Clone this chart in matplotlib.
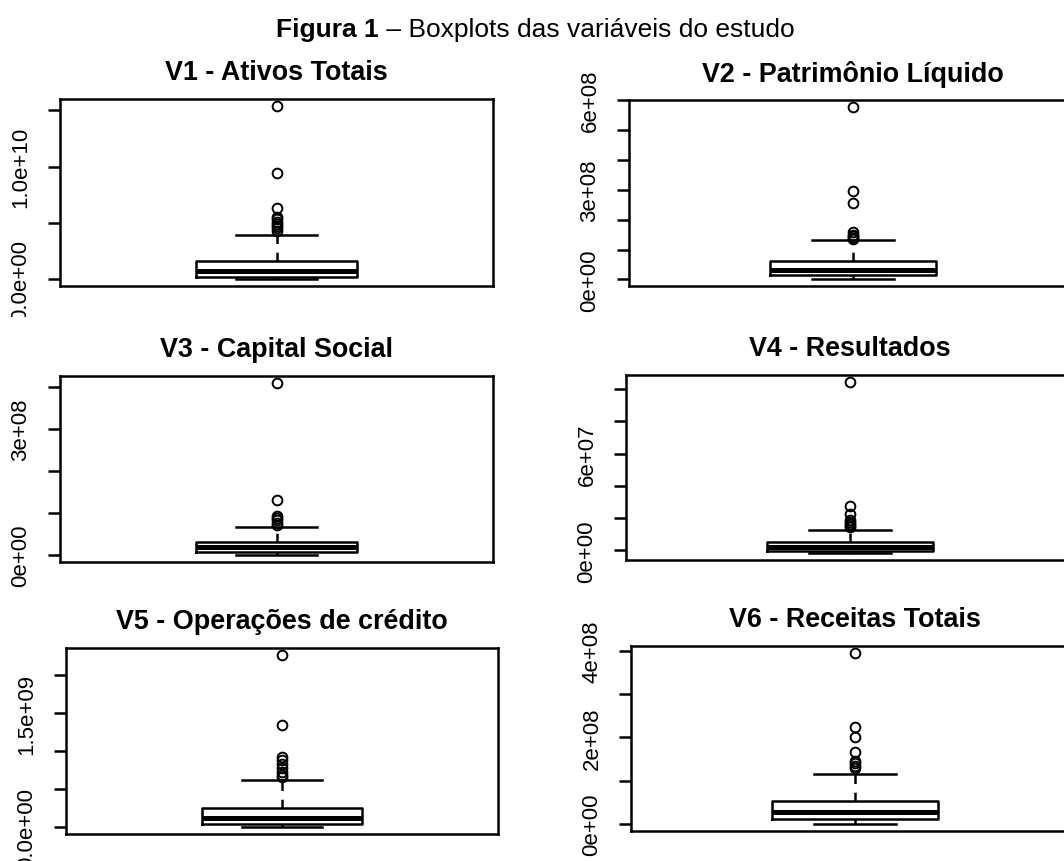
import matplotlib
matplotlib.use("Agg")
import matplotlib.pyplot as plt
from matplotlib.text import Annotation
from matplotlib.transforms import Bbox

plt.rcParams['font.family'] = ['Liberation Sans', 'DejaVu Sans']

W, H = 1064, 862

titles = ["V1 - Ativos Totais", "V2 - Patrimônio Líquido", "V3 - Capital Social",
          "V4 - Resultados", "V5 - Operações de crédito", "V6 - Receitas Totais"]

# box summaries: lower whisker, Q1, median, Q3, upper whisker
v1_box = [0.0, 0.2e9, 0.75e9, 1.65e9, 3.9e9]
v1_out = [15.4e9, 9.46e9, 6.3e9, 5.5e9, 5.3e9, 5.1e9, 4.9e9, 4.7e9, 4.5e9, 4.3e9]
v2_box = [0.01e8, 0.14e8, 0.31e8, 0.63e8, 1.32e8]
v2_out = [5.76e8, 2.95e8, 2.56e8, 1.57e8, 1.5e8, 1.45e8, 1.4e8, 1.36e8]
v3_box = [0.0, 0.08e8, 0.185e8, 0.30e8, 0.66e8]
v3_out = [4.09e8, 1.32e8, 0.94e8, 0.88e8, 0.83e8, 0.77e8, 0.72e8]
v4_box = [-0.17e7, -0.06e7, 0.2e7, 0.52e7, 1.25e7]
v4_out = [10.45e7, 2.76e7, 2.26e7, 1.88e7, 1.75e7, 1.62e7, 1.5e7, 1.44e7]
v5_box = [0.0, 0.36e8, 1.16e8, 2.58e8, 6.15e8]
v5_out = [22.7e8, 13.4e8, 9.27e8, 8.8e8, 8.3e8, 7.8e8, 7.3e8, 6.9e8, 6.6e8]
v6_box = [0.0, 0.12e8, 0.29e8, 0.54e8, 1.15e8]
v6_out = [3.95e8, 2.25e8, 2.0e8, 1.66e8, 1.46e8, 1.4e8, 1.35e8, 1.3e8]

boxes = [v1_box, v2_box, v3_box, v4_box, v5_box, v6_box]
outliers = [v1_out, v2_out, v3_out, v4_out, v5_out, v6_out]

# y axis ticks and the labels that R kept
yticks = [[0, 5e9, 1e10, 1.5e10],
          [0, 1e8, 2e8, 3e8, 4e8, 5e8, 6e8],
          [0, 1e8, 2e8, 3e8, 4e8],
          [0, 2e7, 4e7, 6e7, 8e7, 1e8],
          [0, 5e8, 1e9, 1.5e9, 2e9],
          [0, 1e8, 2e8, 3e8, 4e8]]
ylabels = [["0.0e+00", "", "1.0e+10", ""],
           ["0e+00", "", "", "3e+08", "", "", "6e+08"],
           ["0e+00", "", "", "3e+08", ""],
           ["0e+00", "", "", "6e+07", "", ""],
           ["0.0e+00", "", "", "1.5e+09", ""],
           ["0e+00", "", "2e+08", "", "4e+08"]]

# plot frames in pixels (left, top, right, bottom) and the band of each row
frames = [(60, 100, 493, 287), (629, 101, 1077, 287),
          (60, 377, 493, 563), (626, 376, 1074, 561),
          (66, 649, 498, 835), (631, 647, 1079, 832)]
bands = [(0, 318), (318, 590), (590, 862)]

fig = plt.figure(figsize=(W / 100, H / 100), dpi=100)

for i in range(6):
    l, t, r, b = frames[i]
    ax = fig.add_axes([l / W, 1 - b / H, (r - l) / W, (b - t) / H])
    lo, q1, med, q3, hi = boxes[i]
    stats = [dict(whislo=lo, q1=q1, med=med, q3=q3, whishi=hi, fliers=outliers[i])]
    ax.bxp(stats, positions=[1], widths=0.4, capwidths=0.2,
           boxprops=dict(color='black', lw=1.8),
           medianprops=dict(color='black', lw=3.6, solid_capstyle='butt'),
           whiskerprops=dict(color='black', lw=1.8, ls=(0, (3.5, 3.5))),
           capprops=dict(color='black', lw=1.8),
           flierprops=dict(marker='o', mfc='none', mec='black', ms=7, mew=1.4))
    allv = [lo] + outliers[i]
    ymin, ymax = min(allv), max(allv + [hi])
    pad = 0.04 * (ymax - ymin)
    ax.set_ylim(ymin - pad, ymax + pad)
    ax.set_xlim(0.46, 1.54)
    ax.set_xticks([])
    ax.set_yticks(yticks[i])
    ax.set_yticklabels(ylabels[i])
    ax.tick_params(axis='y', length=8.6, width=1.8, pad=12, labelsize=16,
                   labelrotation=90)
    for lab in ax.get_yticklabels():
        lab.set_va('center')
    for sp in ax.spines.values():
        sp.set_linewidth(1.8)
    # clip tick labels to the row they belong to
    y0, y1 = bands[i // 2]
    clip = Bbox([[0, H - y1], [W, H - y0]])
    for tk in ax.yaxis.get_major_ticks():
        tk.label1.set_clip_box(clip)
        tk.label1.set_clip_on(True)
    ax.annotate(titles[i], xy=(0.5, 1), xycoords='axes fraction',
                xytext=(0, 27), textcoords='offset pixels',
                ha='center', va='center', fontsize=19.4, weight='bold')

t1 = fig.text(276 / W, 1 - 37 / H, "Figura 1", weight='bold', fontsize=19,
              ha='left', va='baseline')
t2 = Annotation(" – Boxplots das variáveis do estudo", xy=(1, 0), xycoords=t1,
                ha='left', va='bottom', fontsize=19)
fig.add_artist(t2)

fig.savefig("out.png", dpi=100)
